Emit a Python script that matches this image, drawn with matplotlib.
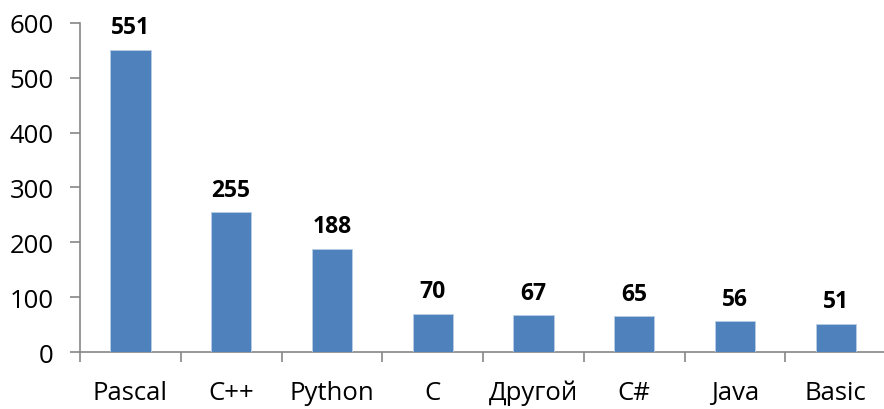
import matplotlib.pyplot as plt
import numpy as np

plt.rcParams['font.family'] = ['Open Sans', 'DejaVu Sans']

# данные
languages = ['Pascal', 'C++', 'Python', 'C', 'Другой', 'C#', 'Java', 'Basic']
counts = [551, 255, 188, 70, 67, 65, 56, 51]

bar_color = '#4F81BD'
axis_color = '#868686'

fig = plt.figure(figsize=(8.84, 4.1), dpi=100)
ax = fig.add_axes([0.0905, 0.139, 0.912, 0.8025])

x = np.arange(len(languages))
ax.bar(x, counts, width=0.4, color=bar_color, edgecolor='#B9CDE5', linewidth=0.6, zorder=3)

for xi, v in zip(x, counts):
    ax.annotate(str(v), (xi, v), xytext=(0, 12), textcoords='offset points',
                ha='center', va='baseline', fontsize=16.5, fontweight='bold')

ax.set_xlim(-0.5, len(languages) - 0.5)
ax.set_ylim(0, 600)
ax.set_yticks(range(0, 601, 100))

# подписи категорий по центру, штрихи между категориями
ax.set_xticks(x)
ax.set_xticklabels(languages)
ax.set_xticks(np.arange(-0.5, len(languages), 1), minor=True)
ax.tick_params(axis='x', which='major', length=0, pad=20, labelsize=18.5)
ax.tick_params(axis='x', which='minor', length=7, width=1.2, color=axis_color, direction='out')
ax.tick_params(axis='y', length=7, width=1.2, color=axis_color, pad=12, labelsize=18.5)

for side in ['top', 'right']:
    ax.spines[side].set_visible(False)
for side in ['left', 'bottom']:
    ax.spines[side].set_color(axis_color)
    ax.spines[side].set_linewidth(1.2)

plt.savefig('out.png', dpi=100)
